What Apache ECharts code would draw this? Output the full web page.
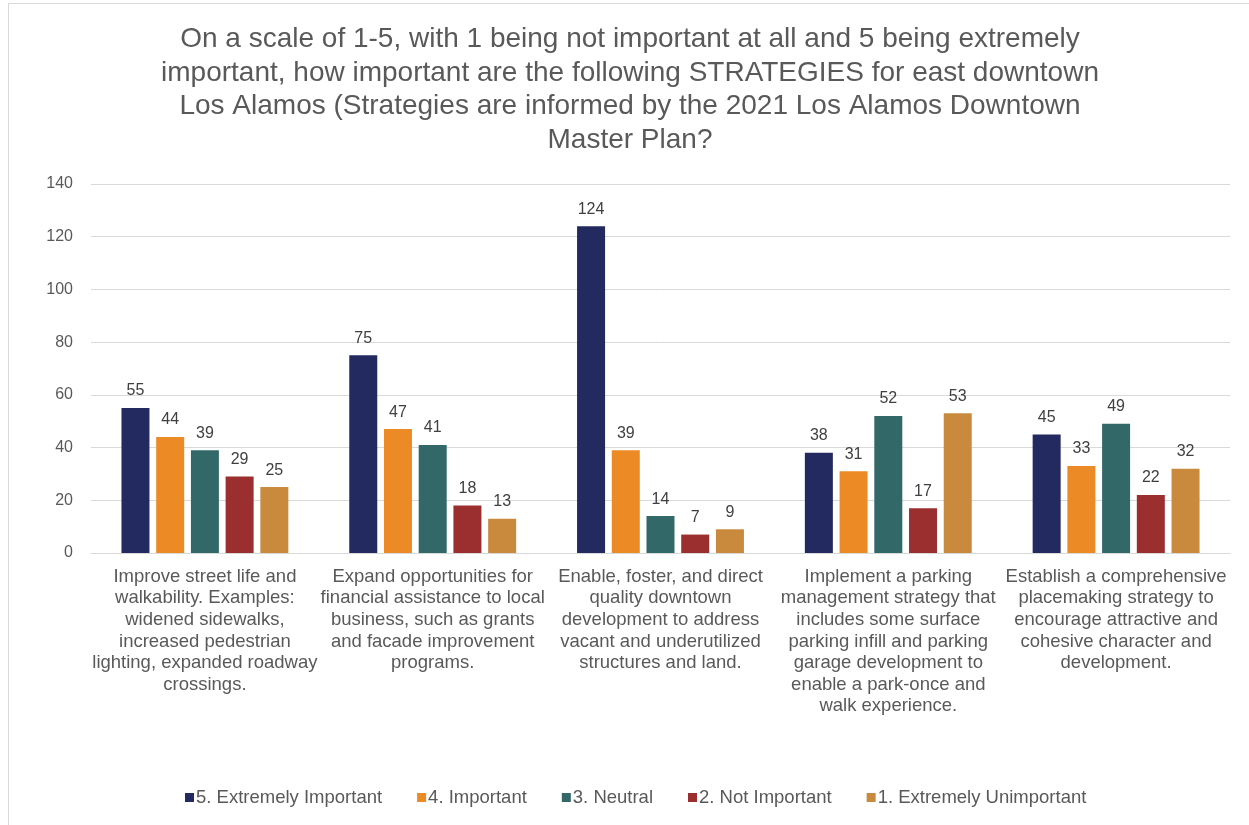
<!DOCTYPE html>
<html>
<head>
<meta charset="utf-8">
<script src="https://cdn.jsdelivr.net/npm/echarts@6/dist/echarts.min.js"></script>
<style>
  html, body { margin: 0; padding: 0; background: #fff; }
  #chart { width: 1249px; height: 825px; }
</style>
</head>
<body>
<div id="chart"></div>
<script>
// Survey strategies (category axis), wrapped as shown on the axis
const categories = [
  'Improve street life and\nwalkability. Examples:\nwidened sidewalks,\nincreased pedestrian\nlighting, expanded roadway\ncrossings.',
  'Expand opportunities for\nfinancial assistance to local\nbusiness, such as grants\nand facade improvement\nprograms.',
  'Enable, foster, and direct\nquality downtown\ndevelopment to address\nvacant and underutilized\nstructures and land.',
  'Implement a parking\nmanagement strategy that\nincludes some surface\nparking infill and parking\ngarage development to\nenable a park-once and\nwalk experience.',
  'Establish a comprehensive\nplacemaking strategy to\nencourage attractive and\ncohesive character and\ndevelopment.'
];

// Response counts per rating
const extremelyImportant = [55, 75, 124, 38, 45];
const important = [44, 47, 39, 31, 33];
const neutral = [39, 41, 14, 52, 49];
const notImportant = [29, 18, 7, 17, 22];
const extremelyUnimportant = [25, 13, 9, 53, 32];

const seriesNames = ['5. Extremely Important', '4. Important', '3. Neutral', '2. Not Important', '1. Extremely Unimportant'];
const seriesColors = ['#222A5F', '#EC8A26', '#336868', '#9B2F30', '#C98A3D'];
const seriesData = [extremelyImportant, important, neutral, notImportant, extremelyUnimportant];

const titleText = 'On a scale of 1-5, with 1 being not important at all and 5 being extremely\nimportant, how important are the following STRATEGIES for east downtown\nLos Alamos (Strategies are informed by the 2021 Los Alamos Downtown\nMaster Plan?';

const FONT = 'Liberation Sans, Arial, sans-serif';

const chart = echarts.init(document.getElementById('chart'), null, { renderer: 'canvas' });

chart.setOption({
  backgroundColor: '#ffffff',
  animation: false,
  graphic: [
    {
      type: 'rect',
      shape: { x: 8.5, y: 3.5, width: 1250, height: 830 },
      style: { fill: 'none', stroke: '#D9D9D9', lineWidth: 1 },
      silent: true
    },
    {
      type: 'text',
      x: 630,
      y: 23,
      style: {
        text: titleText,
        align: 'center',
        verticalAlign: 'top',
        fontFamily: FONT,
        fontSize: 28,
        lineHeight: 33.5,
        fill: '#595959'
      },
      silent: true
    }
  ],
  legend: {
    bottom: 13,
    left: 180,
    icon: 'rect',
    itemWidth: 9,
    itemHeight: 9,
    itemGap: 35,
    textStyle: {
      fontFamily: FONT,
      fontSize: 18.5,
      color: '#595959',
      padding: [0, 0, 0, -3]
    },
    data: seriesNames
  },
  grid: {
    left: 91,
    right: 19,
    top: 184,
    bottom: 272,
    containLabel: false
  },
  xAxis: {
    type: 'category',
    data: categories,
    axisTick: { show: false },
    axisLine: { lineStyle: { color: '#D9D9D9', width: 1 } },
    axisLabel: {
      interval: 0,
      margin: 13,
      fontFamily: FONT,
      fontSize: 18.5,
      lineHeight: 21.6,
      color: '#595959',
      align: 'center'
    }
  },
  yAxis: {
    type: 'value',
    min: 0,
    max: 140,
    interval: 20,
    axisLine: { show: false },
    axisTick: { show: false },
    splitLine: { lineStyle: { color: '#D9D9D9', width: 1 } },
    axisLabel: {
      margin: 18,
      fontFamily: FONT,
      fontSize: 16,
      color: '#595959'
    }
  },
  series: seriesNames.map((name, i) => ({
    name: name,
    type: 'bar',
    data: seriesData[i],
    barWidth: 28,
    barGap: '24%',
    itemStyle: { color: seriesColors[i] },
    label: {
      show: true,
      position: 'top',
      distance: 9,
      fontFamily: FONT,
      fontSize: 16,
      color: '#404040'
    }
  }))
});
</script>
</body>
</html>
